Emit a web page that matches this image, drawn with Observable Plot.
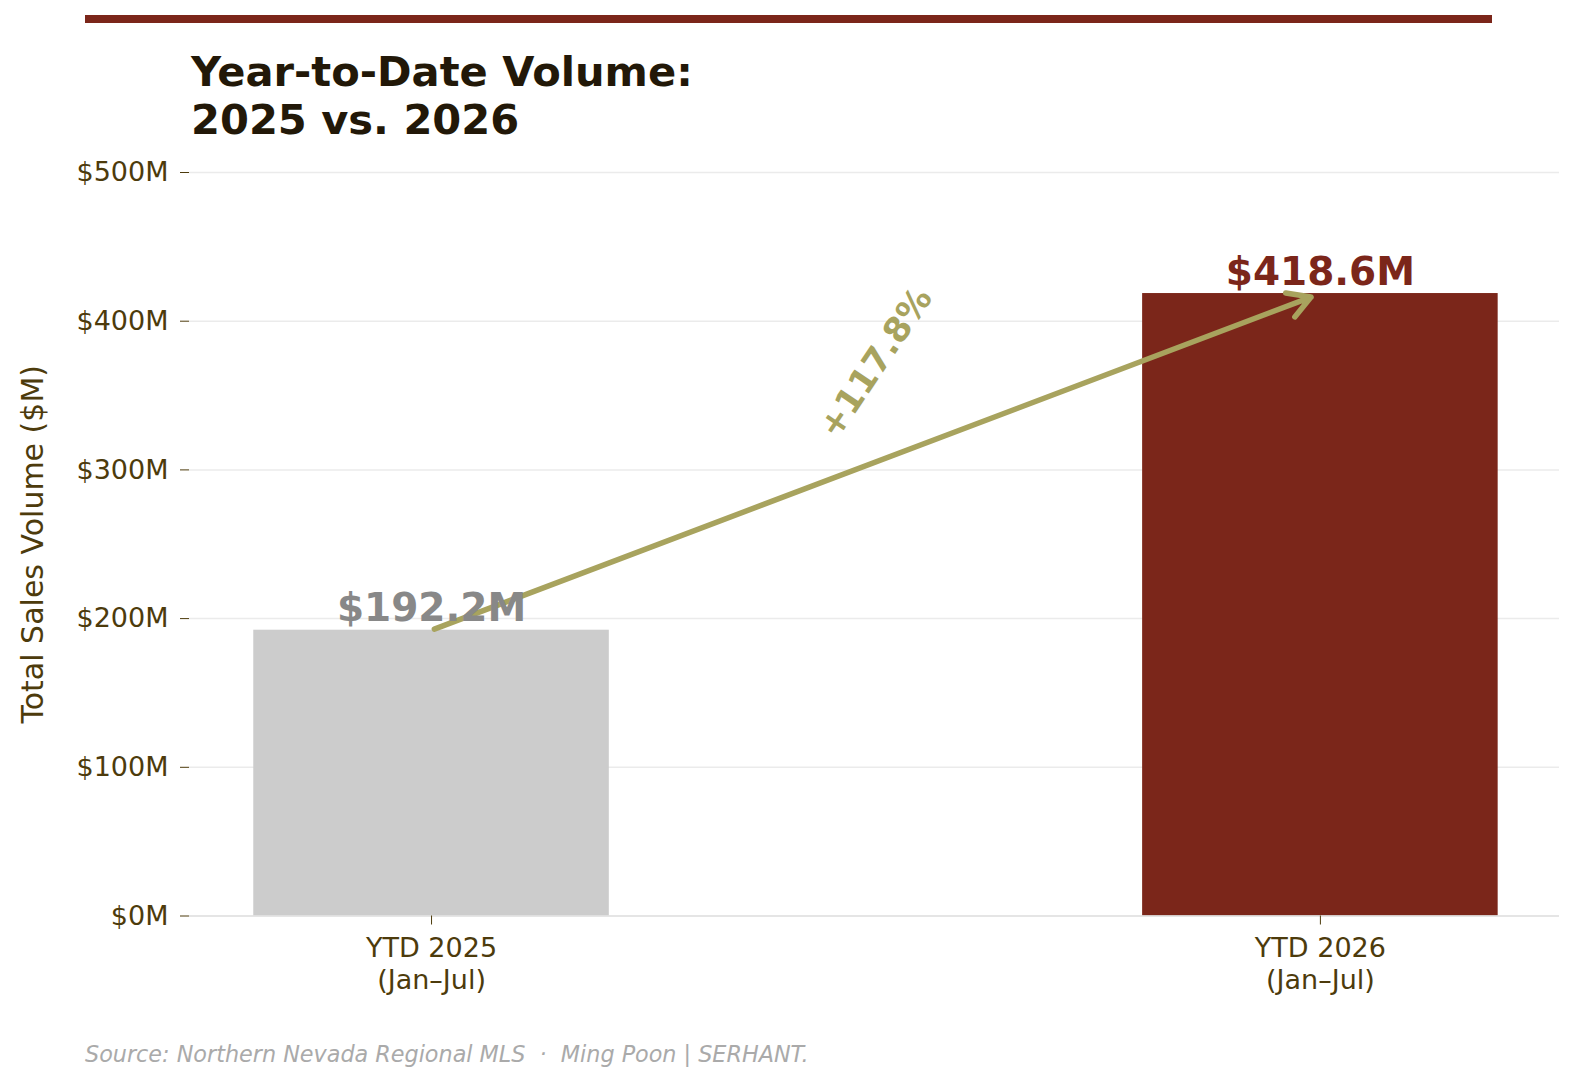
<!DOCTYPE html>
<html>
<head>
<meta charset="utf-8">
<script src="https://cdn.jsdelivr.net/npm/d3@7"></script>
<script src="https://cdn.jsdelivr.net/npm/@observablehq/plot@0.6"></script>
<style>
  html, body { margin: 0; padding: 0; background: #fff; }
  body { width: 1579px; height: 1087px; position: relative; overflow: hidden; font-family: "DejaVu Sans", sans-serif; }
  #topbar { position: absolute; left: 85px; top: 15px; width: 1407px; height: 8px; background: #7b261a; }
  #title { position: absolute; left: 191px; top: 48px; font-size: 41.6px; line-height: 47.5px; font-weight: bold; color: #221808; z-index: 2; }
  #chart { position: absolute; left: 0; top: 0; width: 1579px; height: 1087px; }
  #chart svg { display: block; }
  #footer { position: absolute; left: 85px; top: 1041px; font-size: 22.3px; font-style: italic; color: #aaaaaa; white-space: pre; }
</style>
</head>
<body>
<div id="topbar"></div>
<div id="chart"></div>
<div id="title">Year-to-Date Volume:<br>2025 vs. 2026</div>
<div id="footer">Source: Northern Nevada Regional MLS  ·  Ming Poon | SERHANT.</div>
<script>
const categories = ["YTD 2025\n(Jan–Jul)", "YTD 2026\n(Jan–Jul)"];
const values = [192.2, 418.6];
const valueLabels = ["$192.2M", "$418.6M"];
const barColors = ["#cccccc", "#7b261a"];
const labelColors = ["#888888", "#7b261a"];
const pctChange = "+117.8%";
const yTicks = [0, 100, 200, 300, 400, 500];
const yAxisLabel = "Total Sales Volume ($M)";

const data = categories.map((c, i) => ({i, cat: c, value: values[i], label: valueLabels[i], fill: barColors[i], lfill: labelColors[i]}));
const arrowData = [{x1: 0, y1: values[0], x2: 1, y2: values[1], mx: 0.5, my: (values[0] + values[1]) / 2, text: pctChange}];

const tickColor = "#4d3b0c";
const olive = "#a8a35e";

const chart = Plot.plot({
  width: 1579,
  height: 1087,
  marginLeft: 189,
  marginRight: 20,
  marginTop: 172,
  marginBottom: 171.5,
  style: {fontFamily: "DejaVu Sans, sans-serif", background: "transparent", overflow: "visible"},
  x: {type: "linear", domain: [-0.2723, 1.269]},
  y: {domain: [0, 500]},
  marks: [
    Plot.gridY(yTicks.slice(1), {stroke: "#ebebeb", strokeOpacity: 1, strokeWidth: 1.5}),
    Plot.rect(data, {x1: d => d.i - 0.2, x2: d => d.i + 0.2, y1: 0, y2: "value", fill: "fill"}),
    Plot.ruleY([0], {stroke: "#dddddd", strokeWidth: 1.5}),
    Plot.axisY({ticks: yTicks, tickFormat: d => `$${d}M`, tickSize: 9, tickPadding: 12, fontSize: 27, color: tickColor, stroke: tickColor, label: null}),
    Plot.axisX({ticks: [0, 1], tickFormat: d => categories[d], tickSize: 9, tickPadding: 10, fontSize: 27, color: tickColor, stroke: tickColor, label: null, lineHeight: 1.17}),
    Plot.text([yAxisLabel], {frameAnchor: "left", textAnchor: "middle", text: d => d, rotate: -90, dx: -156, fontSize: 30, fill: tickColor}),
    Plot.arrow(arrowData, {x1: "x1", y1: "y1", x2: "x2", y2: "y2", stroke: olive, strokeWidth: 5.5, headLength: 7, insetStart: 3, insetEnd: 10}),
    Plot.text(data, {x: "i", y: "value", text: "label", fill: "lfill", fontSize: 39, fontWeight: "bold", lineAnchor: "bottom", dy: -9}),
    Plot.text(arrowData, {x: "mx", y: "my", text: "text", fill: olive, fontSize: 34.5, fontWeight: "bold", rotate: -56, dx: 0, dy: -99})
  ]
});
document.getElementById("chart").appendChild(chart);
</script>
</body>
</html>
